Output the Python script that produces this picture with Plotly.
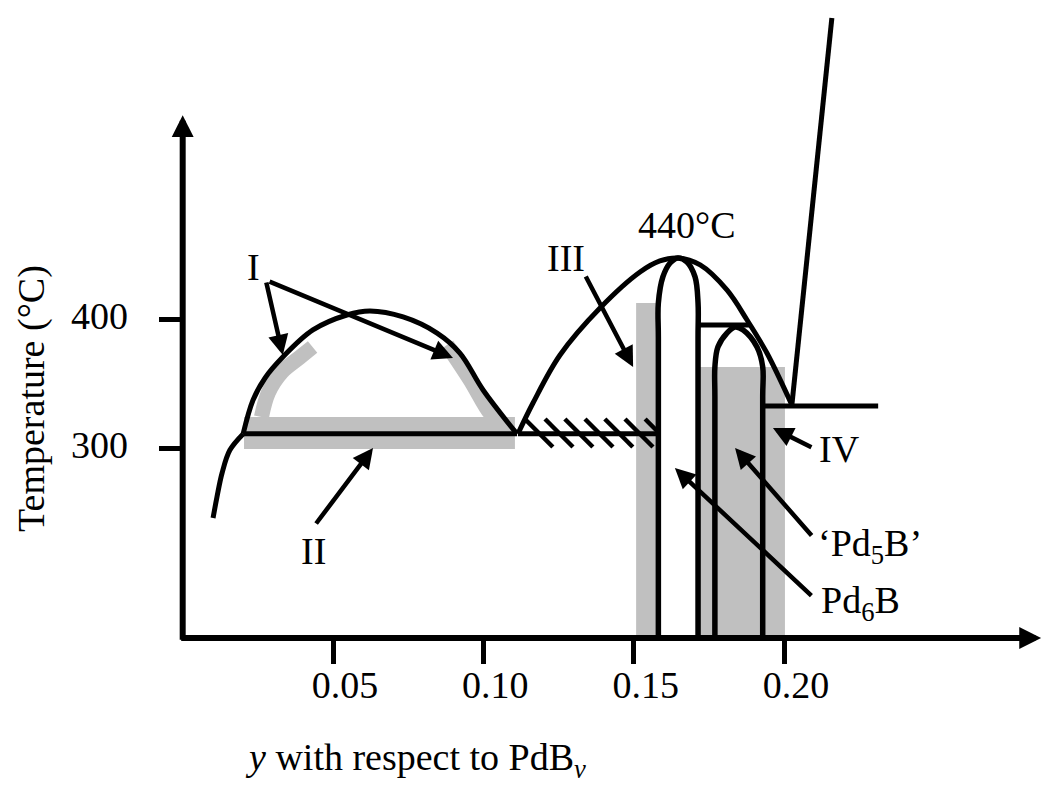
import plotly.graph_objects as go

FONT = "Liberation Serif"
BLACK = "#000000"
GRAY = "#c0c0c0"

# ---------------- data (composition y, temperature °C) ----------------
x_ticks = [0.05, 0.10, 0.15, 0.20]
x_ticklabels = ["0.05", "0.10", "0.15", "0.20"]
t_ticks = [300, 400]
t_ticklabels = ["300", "400"]

T_AXIS = 152.7          # temperature at which the composition axis is drawn
X_AXIS_END = 0.2855
T_AXIS_END = 558.0

# left miscibility gap (I)
dome1_x = [0.0201, 0.0234, 0.0274, 0.0333, 0.0433, 0.0546, 0.0623, 0.0733, 0.0846, 0.0922, 0.0999, 0.1112]
dome1_t = [310.9, 337.2, 354.3, 370.5, 391.5, 403.1, 406.2, 401.6, 389.1, 373.6, 345.0, 310.9]
tail_x = [0.0201, 0.0157, 0.0131, 0.0114, 0.0101]
tail_t = [310.9, 298.4, 280.6, 262.0, 245.7]
eut_x = [0.0201, 0.1112]
eut_t = [311.0, 311.0]

# big dome (III)
dome2_x = [0.1115, 0.1165, 0.1255, 0.1388, 0.1521, 0.1587, 0.1647, 0.1721, 0.1810, 0.1877, 0.1943, 0.2026]
dome2_t = [311.0, 334.9, 372.1, 408.5, 436.4, 445.0, 447.3, 441.9, 422.5, 399.2, 373.6, 333.3]

# hatched two-phase line
hatch_line_x = [0.1115, 0.1582]
hatch_line_t = [311.0, 311.0]
hatch_x = [0.1138, 0.1205, 0.1271, 0.1338, 0.1404, 0.1471, 0.1538]
hatch_dx = 0.0093
hatch_top = 322.5
hatch_bottom = 300.8

# Pd6B phase
pd6_x = [0.1582, 0.1582, 0.1582, 0.1597, 0.1621, 0.1647, 0.1677, 0.1704, 0.1714, 0.1714, 0.1714]
pd6_t = [T_AXIS, 385.0, 412.4, 432.6, 443.4, 447.3, 444.2, 432.6, 412.4, 385.0, T_AXIS]

# 'Pd5B' phase
pd5_x = [0.1770, 0.1770, 0.1770, 0.1780, 0.1810, 0.1837, 0.1864, 0.1910, 0.1929, 0.1929, 0.1929]
pd5_t = [T_AXIS, 340.0, 362.8, 378.3, 389.1, 393.8, 391.5, 378.3, 362.8, 340.0, T_AXIS]
pd5_top_x = [0.1714, 0.1888]
pd5_top_t = [395.3, 395.3]

# region IV
iv_x = [0.1929, 0.2313]
iv_t = [332.6, 332.6]
liq_x = [0.2026, 0.2159]
liq_t = [333.3, 633.3]

# gray highlighted regions
band_x = [0.0204, 0.1105]
band_t = [299.2, 324.0]
arm_left_x = [0.0262, 0.0285, 0.0330, 0.0385, 0.0432]
arm_left_t = [324.0, 343.0, 359.0, 369.5, 378.3]
arm_right_x = [0.0879, 0.0956, 0.1022, 0.1049]
arm_right_t = [379.8, 352.7, 327.1, 321.7]
rect1_x = [0.1508, 0.1582]
rect1_t = [150.5, 412.4]
rect2_x = [0.1714, 0.2003]
rect2_t = [150.5, 362.8]

# labels (text, x, t, xanchor)
labels = [
    ("I", 0.0234, 440.3, "center"),
    ("II", 0.0434, 220.5, "center"),
    ("III", 0.1275, 447.3, "center"),
    ("440°C", 0.1677, 472.9, "center"),
    ("IV", 0.2186, 299.2, "center"),
    ("\u2018Pd<sub>5</sub>B\u2019", 0.2105, 224.0, "left"),
    ("Pd<sub>6</sub>B", 0.2115, 180.0, "left"),
]
# arrows (tail x, tail t, tip x, tip t)
arrows = [
    (0.0277, 429.5, 0.0333, 372.1),
    (0.0284, 429.5, 0.0899, 369.8),
    (0.0440, 240.3, 0.0633, 300.0),
    (0.1338, 434.1, 0.1498, 362.8),
    (0.2096, 300.0, 0.1963, 315.5),
    (0.2096, 231.0, 0.1837, 300.0),
    (0.2096, 184.5, 0.1637, 284.5),
]

# ---------------- figure ----------------
fig = go.Figure()

def rect(xs, ts):
    fig.add_trace(go.Scatter(x=[xs[0], xs[1], xs[1], xs[0], xs[0]],
                             y=[ts[0], ts[0], ts[1], ts[1], ts[0]],
                             mode="lines", fill="toself", fillcolor=GRAY,
                             line=dict(width=0, color=GRAY), hoverinfo="skip"))

def line(xs, ts, width=5, color=BLACK, shape="linear"):
    fig.add_trace(go.Scatter(x=xs, y=ts, mode="lines",
                             line=dict(width=width, color=color, shape=shape),
                             hoverinfo="skip"))

rect(band_x, band_t)
rect(rect1_x, rect1_t)
rect(rect2_x, rect2_t)
line(arm_left_x, arm_left_t, width=15, color=GRAY, shape="spline")
line(arm_right_x, arm_right_t, width=15, color=GRAY, shape="spline")

line(dome1_x, dome1_t, shape="spline")
line(tail_x, tail_t, shape="spline")
line(eut_x, eut_t)
line(dome2_x, dome2_t, shape="spline")
line(hatch_line_x, hatch_line_t)

hx, ht = [], []
for x0 in hatch_x:
    x1 = min(x0 + hatch_dx, hatch_line_x[1])
    t1 = hatch_top - (hatch_top - hatch_bottom) * (x1 - x0) / hatch_dx
    hx += [x0, x1, None]
    ht += [hatch_top, t1, None]
line(hx, ht, width=4.5)

line(pd6_x, pd6_t, width=5.5, shape="spline")
line(pd5_x, pd5_t, width=5.5, shape="spline")
line(pd5_top_x, pd5_top_t)
line(iv_x, iv_t)
line(liq_x, liq_t)

annotations = []
# axis arrows
annotations.append(dict(x=0, y=T_AXIS_END, ax=0, ay=T_AXIS - 2.5, xref="x", yref="y",
                        axref="x", ayref="y", text="", showarrow=True, arrowhead=2,
                        arrowsize=0.73, arrowwidth=6, arrowcolor=BLACK))
annotations.append(dict(x=X_AXIS_END, y=T_AXIS, ax=-0.001, ay=T_AXIS, xref="x", yref="y",
                        axref="x", ayref="y", text="", showarrow=True, arrowhead=2,
                        arrowsize=0.73, arrowwidth=6, arrowcolor=BLACK))
for (tx, tt, hx_, ht_) in arrows:
    annotations.append(dict(x=hx_, y=ht_, ax=tx, ay=tt, xref="x", yref="y",
                            axref="x", ayref="y", text="", showarrow=True, arrowhead=2,
                            arrowsize=0.9, arrowwidth=4.5, arrowcolor=BLACK))
for (txt, x, t, xa) in labels:
    annotations.append(dict(x=x, y=t, xref="x", yref="y", text=txt, showarrow=False,
                            xanchor=xa, yanchor="middle",
                            font=dict(family=FONT, size=38, color=BLACK)))
# axis titles
annotations.append(dict(x=0.3992, y=0.0343, xref="paper", yref="paper",
                        text="<i>y</i> with respect to PdB<sub><i>v</i></sub>",
                        showarrow=False, xanchor="center", yanchor="middle",
                        font=dict(family=FONT, size=38, color=BLACK)))
annotations.append(dict(x=0.0307, y=0.4943, xref="paper", yref="paper",
                        text="Temperature (°C)", textangle=-90,
                        showarrow=False, xanchor="center", yanchor="middle",
                        font=dict(family=FONT, size=38, color=BLACK)))

fig.update_layout(
    width=1042, height=787,
    margin=dict(l=0, r=0, t=0, b=0),
    plot_bgcolor="white", paper_bgcolor="white",
    showlegend=False,
    annotations=annotations,
    xaxis=dict(range=[-0.06076, 0.28579], domain=[0, 1], anchor="free", position=0.18933,
               showline=False, showgrid=False, zeroline=False,
               ticks="outside", ticklen=25, tickwidth=5, tickcolor=BLACK,
               tickvals=x_ticks, ticktext=x_ticklabels,
               ticklabelshift=12, ticklabelstandoff=-12,
               tickfont=dict(family=FONT, size=38, color=BLACK)),
    yaxis=dict(range=[37.21, 647.29], domain=[0, 1], anchor="free", position=0.17534,
               showline=False, showgrid=False, zeroline=False,
               ticks="outside", ticklen=24, tickwidth=5, tickcolor=BLACK,
               tickvals=t_ticks, ticktext=t_ticklabels,
               ticklabelshift=-3, ticklabelstandoff=23,
               tickfont=dict(family=FONT, size=38, color=BLACK)),
)

fig.write_html("out.html")
